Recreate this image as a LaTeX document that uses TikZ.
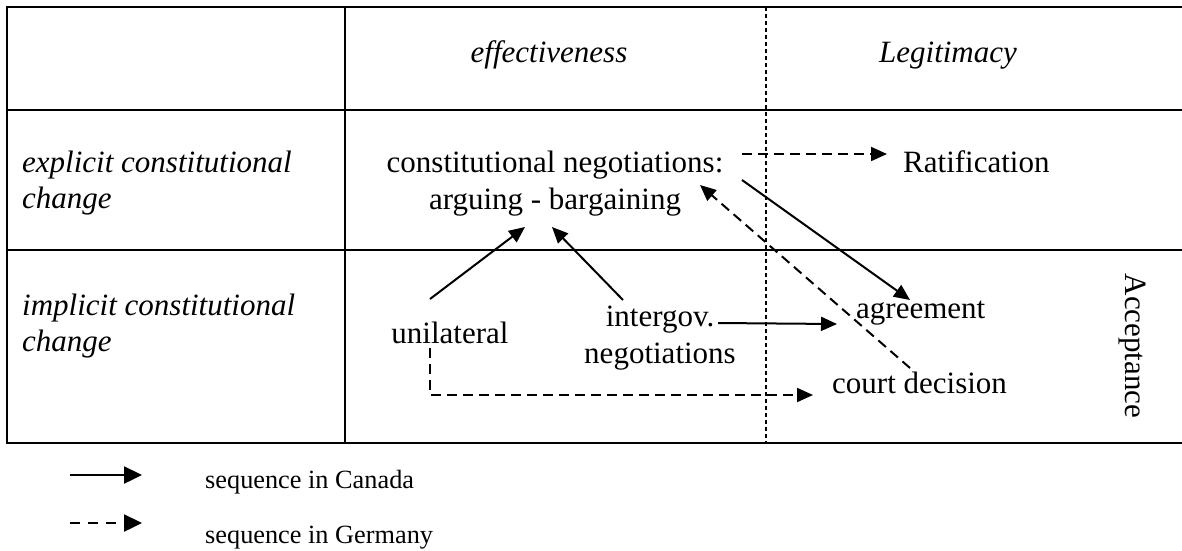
\documentclass[tikz,border=0pt]{standalone}
\usepackage{fontspec}
\setmainfont{Liberation Serif}
\usetikzlibrary{arrows.meta}
\tikzset{
  grid/.style={line width=2.2pt},
  sep/.style={line width=1.6pt, dash pattern=on 4pt off 3pt},
  seq/.style={line width=2pt, -{Triangle[length=16pt,width=14pt]}},
  seqde/.style={seq, dash pattern=on 10pt off 6pt},
  legseq/.style={line width=2.4pt, -{Triangle[length=18pt,width=17pt]}},
  txt/.style={inner sep=0pt, font=\fontsize{31}{37}\selectfont},
  itxt/.style={txt, font=\fontsize{31}{36}\selectfont\itshape},
  leg/.style={inner sep=0pt, font=\fontsize{26.3}{30}\selectfont, anchor=base west},
}
\begin{document}
\begin{tikzpicture}[x=1pt,y=-1pt]
\useasboundingbox (0,0) rectangle (1182,550);
% table
\draw[grid] (1182,7) -- (7,7) -- (7,443) -- (1182,443);
\draw[grid] (7,110) -- (1182,110);
\draw[grid] (7,250) -- (1182,250);
\draw[grid] (345,7) -- (345,443);
\draw[sep] (766,7) -- (766,443);
% headers
\node[itxt, anchor=base] (eff) at (549,62) {effectiveness};
\node[itxt, anchor=base] (leg) at (948,62) {Legitimacy};
\node[itxt, anchor=north west, align=left] (expl) at (22,151) {explicit constitutional\\change};
\node[itxt, anchor=north west, align=left] (impl) at (22,294) {implicit constitutional\\change};
% content
\node[txt, anchor=north, align=center] (neg) at (555,151) {constitutional negotiations:\\arguing - bargaining};
\node[txt, anchor=base west] (rat) at (903,172) {Ratification};
\node[txt, anchor=base west] (agr) at (856,318) {agreement};
\node[txt, anchor=base west] (court) at (832,393) {court decision};
\node[txt, anchor=base] (uni) at (450,343) {unilateral};
\node[txt, anchor=north, align=center] (igov) at (660,306) {intergov.\\negotiations};
\node[txt, rotate=-90] (acc) at (1132,346) {Acceptance};
% connector points
\coordinate (negR) at (742,154);
\coordinate (negS) at (742,180);
\coordinate (negIn) at (700,185);
\coordinate (negL) at (525,227);
\coordinate (negM) at (552,227);
\coordinate (ratIn) at (887,154);
\coordinate (agrTop) at (910,300);
\coordinate (agrL) at (837,324);
\coordinate (courtOut) at (910,368);
\coordinate (courtIn) at (813,395);
\coordinate (uniTop) at (430,299);
\coordinate (uniBot) at (430,348);
\coordinate (uniCorner) at (430,395);
\coordinate (igovTop) at (623,300);
\coordinate (igovR) at (718,323);
% arrows
\draw[seqde] (negR) -- (ratIn);
\draw[seq] (negS) -- (agrTop);
\draw[seqde] (courtOut) -- (negIn);
\draw[seq] (uniTop) -- (negL);
\draw[seq] (igovTop) -- (negM);
\draw[seq] (igovR) -- (agrL);
\draw[seqde] (uniBot) -- (uniCorner) -- (courtIn);
% legend
\coordinate (l1a) at (70,475);
\coordinate (l1b) at (142,475);
\coordinate (l2a) at (70,523);
\coordinate (l2b) at (142,523);
\draw[legseq] (l1a) -- (l1b);
\draw[legseq, dash pattern=on 10pt off 8pt] (l2a) -- (l2b);
\node[leg] (canada) at (205,488) {sequence in Canada};
\node[leg] (germany) at (205,543) {sequence in Germany};
\end{tikzpicture}
\end{document}
